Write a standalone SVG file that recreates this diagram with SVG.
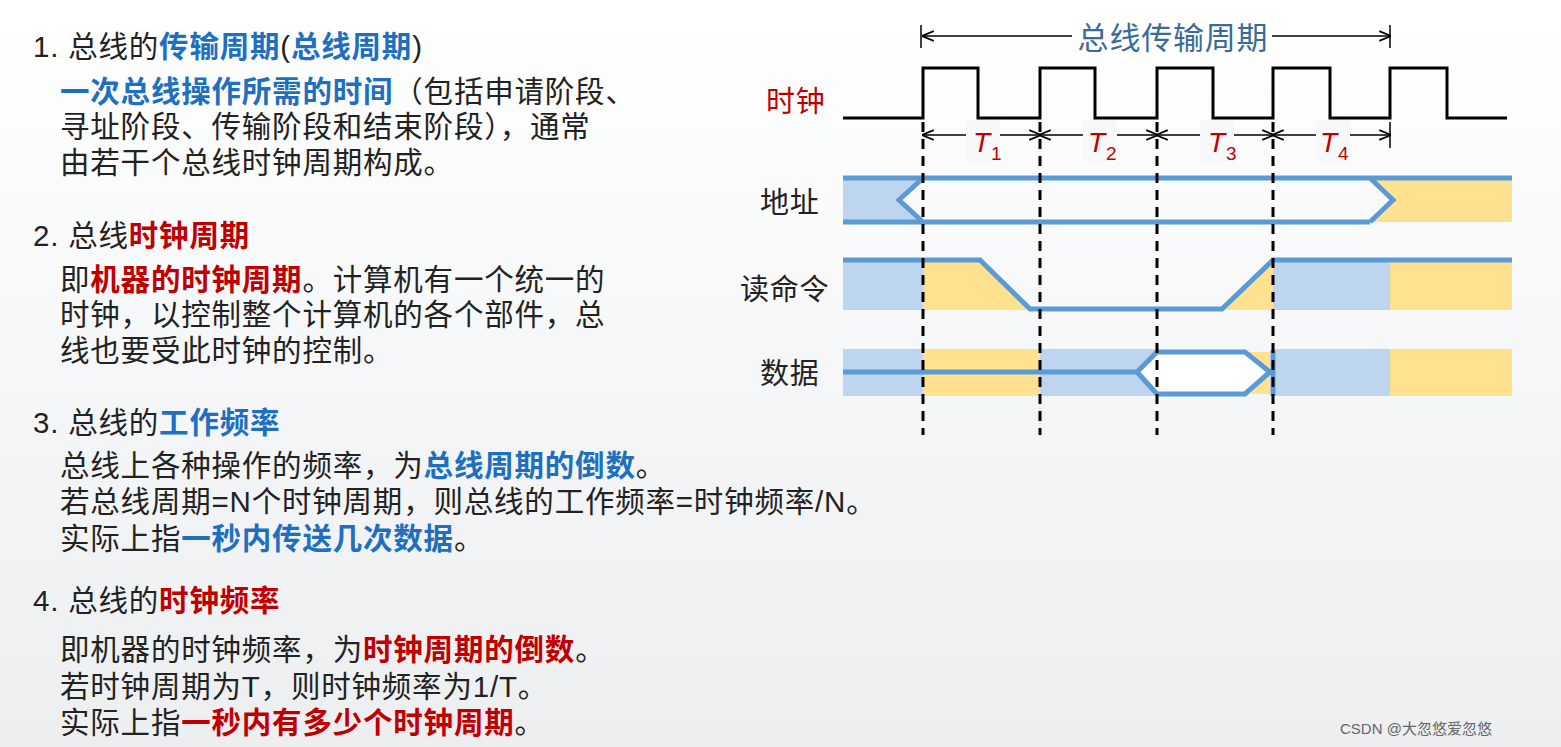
<svg xmlns="http://www.w3.org/2000/svg" width="1561" height="747" viewBox="0 0 1561 747">
<style>
text{font-family:"Liberation Sans","Noto Sans CJK SC",sans-serif;font-size:29.5px;fill:#222;letter-spacing:0.8px}
.b{fill:#1f6fc0;font-weight:bold}.r{fill:#c00000;font-weight:bold}
.lab{font-size:29px}.t{fill:#c00000;font-style:italic;font-size:28px}
.bl{fill:#bdd5ee}.ye{fill:#ffe190}.ln{fill:none;stroke:#5b9bd5;stroke-width:5}
.dash{stroke:#000;stroke-width:3;stroke-dasharray:10,7}
.ar{stroke:#000;stroke-width:1.5;marker-start:url(#a);marker-end:url(#a)}
</style>
<defs><marker id="a" viewBox="0 0 10 10" refX="9" refY="5" markerWidth="8" markerHeight="8" orient="auto-start-reverse"><path d="M0,1 L10,5 L0,9" fill="none" stroke="#000" stroke-width="1.5"/></marker>
<linearGradient id="bg" x1="0" y1="0" x2="0" y2="1"><stop offset="0" stop-color="#fff"/><stop offset="1" stop-color="#eceef0"/></linearGradient></defs>
<rect width="1561" height="747" fill="url(#bg)"/>
<g id="text">
<text x="33" y="57">1. 总线的<tspan class="b">传输周期</tspan>(<tspan class="b">总线周期</tspan>)</text>
<text x="60" y="102"><tspan class="b">一次总线操作所需的时间</tspan>（包括申请阶段、</text>
<text x="60" y="137">寻址阶段、传输阶段和结束阶段），通常</text>
<text x="60" y="173">由若干个总线时钟周期构成。</text>
<text x="33" y="246">2. 总线<tspan class="r">时钟周期</tspan></text>
<text x="60" y="290">即<tspan class="r">机器的时钟周期</tspan>。计算机有一个统一的</text>
<text x="60" y="325">时钟，以控制整个计算机的各个部件，总</text>
<text x="60" y="361">线也要受此时钟的控制。</text>
<text x="33" y="433">3. 总线的<tspan class="b">工作频率</tspan></text>
<text x="60" y="476">总线上各种操作的频率，为<tspan class="b">总线周期的倒数</tspan>。</text>
<text x="60" y="512">若总线周期=N个时钟周期，则总线的工作频率=时钟频率/N。</text>
<text x="60" y="549">实际上指<tspan class="b">一秒内传送几次数据</tspan>。</text>
<text x="33" y="611">4. 总线的<tspan class="r">时钟频率</tspan></text>
<text x="60" y="660">即机器的时钟频率，为<tspan class="r">时钟周期的倒数</tspan>。</text>
<text x="60" y="697">若时钟周期为T，则时钟频率为1/T。</text>
<text x="60" y="733">实际上指<tspan class="r">一秒内有多少个时钟周期</tspan>。</text>
<text x="1340" y="734" style="font-size:15px;fill:#666;letter-spacing:0">CSDN @大忽悠爱忽悠</text>
</g>
<g id="labels">
<text x="766" y="112" class="lab" style="fill:#c00000">时钟</text>
<text x="760" y="213" class="lab">地址</text>
<text x="740" y="300" class="lab">读命令</text>
<text x="760" y="384" class="lab">数据</text>
<text x="1173" y="49" class="lab" text-anchor="middle" style="fill:#3a6a9a;font-size:31px">总线传输周期</text>
</g>
<g id="address">
<polygon class="bl" points="843,178 923,178 897,200 923,222 843,222"/>
<polygon class="ye" points="1370,178 1512,178 1512,222 1370,222 1393,200"/>
<path class="ln" d="M843,178 H1512 M843,222 H1370 M923,178 L899,200 L923,222 M1370,178 L1393,200 L1370,222"/>
</g>
<g id="readcmd">
<rect class="bl" x="843" y="260" width="80" height="50"/>
<polygon class="ye" points="923,260 980,260 1030,310 923,310"/>
<polygon class="ye" points="1273,260 1273,310 1225,310"/>
<rect class="bl" x="1273" y="260" width="117" height="50"/>
<rect class="ye" x="1390" y="260" width="122" height="50"/>
<path class="ln" d="M843,260 H980 L1030,309 H1222 L1273,260 H1512"/>
</g>
<g id="data">
<rect class="bl" x="843" y="349" width="80" height="47"/>
<rect class="ye" x="923" y="349" width="117" height="47"/>
<rect class="bl" x="1040" y="349" width="117" height="47"/>
<polygon fill="#fff" points="1157,352 1240,352 1270,372 1240,394 1157,394 1137,372"/>
<polygon class="ye" points="1245,352 1270,352 1270,372"/>
<polygon class="ye" points="1270,372 1270,394 1250,394"/>
<rect class="bl" x="1273" y="349" width="117" height="47"/>
<rect class="ye" x="1390" y="349" width="122" height="47"/>
<path class="ln" d="M843,372 H1137 L1157,352 H1245 L1270,372 L1245,394 H1157 L1137,372 M1273,350 V396"/>
</g>
<g id="connectors">
<path d="M843,118 H923 V68 H978 V118 H1040 V68 H1095 V118 H1157 V68 H1213 V118 H1273 V68 H1330 V118 H1390 V68 H1447 V118 H1507" fill="none" stroke="#000" stroke-width="3"/>
<path class="dash" d="M923,122 V435 M1040,122 V435 M1157,122 V435 M1273,122 V435"/>
<path d="M921,25 V48 M1390,25 V48 M1390,122 V148" stroke="#000" stroke-width="1.5"/>
<line class="ar" x1="923" y1="36" x2="1072" y2="36" style="marker-start:url(#a);marker-end:none"/>
<line class="ar" x1="1272" y1="36" x2="1390" y2="36" style="marker-start:none"/>
<line class="ar" x1="923" y1="135" x2="1040" y2="135"/>
<line class="ar" x1="1040" y1="135" x2="1157" y2="135"/>
<line class="ar" x1="1157" y1="135" x2="1273" y2="135"/>
<line class="ar" x1="1273" y1="135" x2="1390" y2="135"/>
</g>
<g id="tlabels">
<rect x="966" y="120" width="34" height="42" fill="#f7f8f9"/><text class="t" x="973" y="152">T<tspan style="font-size:19px;font-style:normal" dy="8">1</tspan></text>
<rect x="1083" y="120" width="34" height="42" fill="#f7f8f9"/><text class="t" x="1088" y="152">T<tspan style="font-size:19px;font-style:normal" dy="8">2</tspan></text>
<rect x="1200" y="120" width="34" height="42" fill="#f7f8f9"/><text class="t" x="1208" y="152">T<tspan style="font-size:19px;font-style:normal" dy="8">3</tspan></text>
<rect x="1316" y="120" width="34" height="42" fill="#f7f8f9"/><text class="t" x="1320" y="152">T<tspan style="font-size:19px;font-style:normal" dy="8">4</tspan></text>
</g>
</svg>
